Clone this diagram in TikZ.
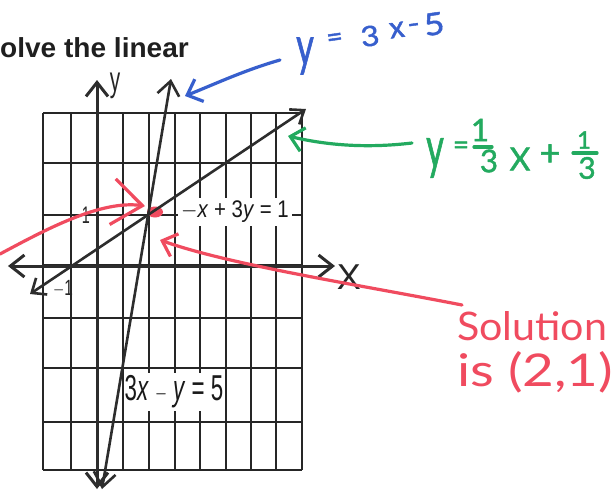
\documentclass[tikz,border=0pt]{standalone}
\usepackage{fontspec}
\usepackage{graphicx}
\setmainfont{Liberation Sans}
\newfontfamily\hand{Lato}[Numbers=Lining]
\newfontfamily\marker{Lato}[FakeBold=1.5, Numbers=Lining]
\usetikzlibrary{arrows.meta}
\definecolor{inkblue}{RGB}{55,95,205}
\definecolor{inkgreen}{RGB}{35,170,95}
\definecolor{inkred}{RGB}{240,75,95}
\definecolor{pencil}{RGB}{45,45,45}
\begin{document}
\begin{tikzpicture}[x=1pt,y=-1pt,
  gridline/.style={line width=1.2pt, draw=black!85},
  axisline/.style={line width=3pt, draw=pencil},
  graphline/.style={line width=2.6pt, draw=pencil},
  bothtips/.style={{Straight Barb[length=14pt,width=22pt]}-{Straight Barb[length=14pt,width=22pt]}},
  ink/.style={line width=3.2pt, line cap=round, line join=round},
  inkhead/.style={-{Straight Barb[length=13pt,width=24pt]}},
  eqlabel/.style={fill=white, inner sep=0pt, text=black!90},
  handtext/.style={inner sep=0pt},
  axlabel/.style={inner sep=0pt, text=black!85}
]
\useasboundingbox[fill=white] (0,0) rectangle (614,493);

% title
\node[anchor=base west, inner sep=0pt, text=black!88,
      font=\fontsize{27.5}{28}\selectfont\bfseries] (title) at (0,57)
      {\scalebox{1.02}[1]{olve the linear}};

% grid
\foreach \x in {43,71,97,123,149,175,200,226,251,276,302}
  \draw[gridline] (\x,113) -- (\x,470);
\foreach \y in {113,163,215,265,318,368,422,470}
  \draw[gridline] (43,\y) -- (302,\y);

% equation labels with white background
\node[eqlabel, minimum width=114pt, minimum height=28pt,
      font=\fontsize{24}{24}\selectfont] (eqA) at (235,212)
      {\scalebox{0.85}[1]{$-$\textit{x} + 3\textit{y} = 1}};
\node[eqlabel, minimum width=99pt, minimum height=38pt,
      font=\fontsize{36}{36}\selectfont] (eqB) at (174,392)
      {\scalebox{0.62}[1]{3\textit{x} $-$ \textit{y} = 5}};

% red mark at the intersection
\fill[inkred] (155,212) ellipse (8pt and 5.5pt);

% axes
\coordinate (yb) at (97,489);
\coordinate (yt) at (97,80);
\coordinate (xl) at (8,266);
\coordinate (xr) at (335,266);
\draw[axisline, bothtips] (yb) -- (yt);
\draw[axisline, bothtips] (xl) -- (xr);

% graphed lines
\coordinate (aL) at (30,294);
\coordinate (aR) at (306,109);
\coordinate (bB) at (102,489);
\coordinate (bT) at (171,79);
\draw[graphline, {Straight Barb[length=12pt,width=20pt]}-{Straight Barb[length=12pt,width=18pt]}] (aL) -- (aR);
\draw[graphline, bothtips] (bB) -- (bT);

% axis labels
\node[axlabel, font=\fontsize{26}{26}\selectfont] (ylab) at (115,86) {\scalebox{0.8}[1.35]{y}};
\node[axlabel, font=\fontsize{36}{36}\selectfont] (xlab) at (349,277) {X};
\node[axlabel, font=\fontsize{24}{24}\selectfont] (one) at (86,215) {\scalebox{0.6}[1]{1}};
\node[axlabel, font=\fontsize{22}{22}\selectfont] (mone) at (63,289) {\scalebox{0.7}[1]{$-$1}};

% blue annotation
\coordinate (bt) at (280,60);
\coordinate (bh) at (185,96);
\draw[ink, inkblue, inkhead] (bt) .. controls (245,70) and (215,84) .. (bh);
\begin{scope}[every node/.style={handtext, text=inkblue}]
\node[font=\marker\fontsize{34}{34}\selectfont] (by) at (305,56) {\scalebox{1}[1.6]{y}};
\node[font=\marker\fontsize{28}{28}\selectfont, rotate=8] (beq) at (335,40) {=};
\node[font=\marker\fontsize{20}{20}\selectfont, rotate=8] (b3) at (370,36) {\scalebox{1.6}[1.4]{3}};
\node[font=\marker\fontsize{30}{30}\selectfont, rotate=8] (bx) at (397,30) {x};
\node[font=\marker\fontsize{26}{26}\selectfont, rotate=8] (bm) at (414,28) {\scalebox{1.3}[1]{-}};
\node[font=\marker\fontsize{22}{22}\selectfont, rotate=8] (b5) at (434,24) {\scalebox{1.6}[1.4]{5}};
\end{scope}

% green annotation
\coordinate (gt) at (412,143);
\coordinate (gh) at (288,136);
\draw[ink, inkgreen, inkhead] (gt) .. controls (370,148) and (330,146) .. (gh);
\begin{scope}[every node/.style={handtext, text=inkgreen}]
\node[font=\marker\fontsize{34}{34}\selectfont] (gy) at (435,158) {\scalebox{1}[1.7]{y}};
\node[font=\marker\fontsize{28}{28}\selectfont] (geq) at (461,148) {=};
\node[font=\marker\fontsize{26}{26}\selectfont] (g1a) at (480,130) {\scalebox{1.2}{1}};
\node[font=\marker\fontsize{25}{25}\selectfont] (g3a) at (489,161) {\scalebox{1.25}{3}};
\node[font=\marker\fontsize{32}{32}\selectfont] (gX) at (520,159) {X};
\node[font=\marker\fontsize{36}{36}\selectfont] (gplus) at (550,155) {+};
\node[font=\marker\fontsize{20}{20}\selectfont] (g1b) at (584,140) {\scalebox{1.2}{1}};
\node[font=\marker\fontsize{24}{24}\selectfont] (g3b) at (587,168) {\scalebox{1.25}{3}};
\end{scope}
\draw[ink, inkgreen] (474,147) -- (492,147);
\draw[ink, inkgreen] (573,153) -- (597,153);

% red annotations
\coordinate (rt) at (462,305);
\coordinate (rh) at (160,240);
\draw[ink, inkred, inkhead] (rt) .. controls (360,285) and (230,265) .. (rh);
\coordinate (lt) at (0,254);
\coordinate (lh) at (145,206);
\draw[ink, inkred, -{Straight Barb[length=30pt,width=46pt]}] (lt) .. controls (45,230) and (100,200) .. (lh);
\node[handtext, anchor=base west, text=inkred, font=\hand\fontsize{40}{40}\selectfont] (sol1) at (457,340)
   {\resizebox{150pt}{29pt}{Solution}};
\node[handtext, anchor=base west, text=inkred, font=\hand\fontsize{40}{40}\selectfont] (sol2) at (457,386)
   {\resizebox{156pt}{35pt}{is (2,1)}};
\end{tikzpicture}
\end{document}
